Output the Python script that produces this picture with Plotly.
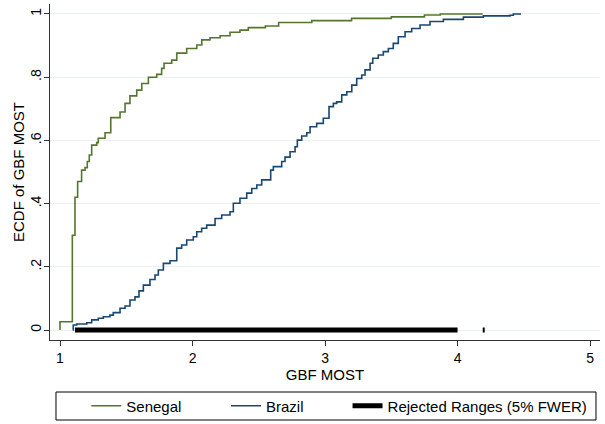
import plotly.graph_objects as go

senegal_x = [1.0, 1.0, 1.093, 1.113, 1.133, 1.163, 1.189, 1.206, 1.221, 1.239, 1.277, 1.289, 1.34, 1.383,
             1.453, 1.491, 1.528, 1.579, 1.617, 1.667, 1.73, 1.767, 1.785, 1.843, 1.881, 1.956, 2.032,
             2.07, 2.132, 2.208, 2.283, 2.358, 2.421, 2.55, 2.65, 2.9, 3.2, 3.5, 3.75, 3.87, 4.19]
senegal_y = [0.0, 0.026, 0.30, 0.42, 0.47, 0.506, 0.514, 0.533, 0.554, 0.585, 0.593, 0.607, 0.624, 0.672,
             0.69, 0.717, 0.741, 0.759, 0.78, 0.80, 0.809, 0.828, 0.844, 0.854, 0.876, 0.891, 0.902,
             0.918, 0.925, 0.931, 0.942, 0.949, 0.957, 0.962, 0.973, 0.979, 0.986, 0.991, 0.997, 1.0, 1.0]

brazil_x = [1.096, 1.10, 1.126, 1.202, 1.239, 1.289, 1.327, 1.377, 1.402, 1.453, 1.491, 1.528, 1.566,
            1.596, 1.629, 1.679, 1.717, 1.742, 1.780, 1.830, 1.881, 1.918, 1.956, 2.006, 2.032, 2.069,
            2.107, 2.17, 2.22, 2.283, 2.308, 2.358, 2.409, 2.447, 2.485, 2.522, 2.59, 2.61, 2.673, 2.698,
            2.736, 2.774, 2.791, 2.824, 2.862, 2.887, 2.937, 2.987, 3.03, 3.063, 3.088, 3.126, 3.164,
            3.202, 3.239, 3.277, 3.302, 3.34, 3.36, 3.402, 3.44, 3.478, 3.515, 3.553, 3.604, 3.654,
            3.717, 3.792, 3.893, 4.044, 4.195, 4.396, 4.421, 4.479]
brazil_y = [0.0, 0.016, 0.019, 0.023, 0.032, 0.037, 0.042, 0.047, 0.055, 0.069, 0.076, 0.095, 0.105,
            0.124, 0.142, 0.16, 0.174, 0.19, 0.211, 0.219, 0.259, 0.269, 0.285, 0.295, 0.311, 0.322,
            0.332, 0.353, 0.364, 0.374, 0.401, 0.417, 0.433, 0.448, 0.459, 0.475, 0.506, 0.517, 0.533,
            0.547, 0.564, 0.58, 0.601, 0.614, 0.624, 0.643, 0.654, 0.67, 0.707, 0.717, 0.722, 0.744,
            0.754, 0.775, 0.796, 0.807, 0.823, 0.844, 0.86, 0.87, 0.881, 0.891, 0.907, 0.928, 0.944,
            0.954, 0.965, 0.976, 0.983, 0.99, 0.994, 0.996, 1.0, 1.0]

rejected_x = [1.113, 4.0, None, 4.19, 4.205]
rejected_y = [0.0, 0.0, None, 0.0, 0.0]

x_ticks = [1, 2, 3, 4, 5]
x_tick_labels = ["1", "2", "3", "4", "5"]
y_ticks = [0, 0.2, 0.4, 0.6, 0.8, 1.0]
y_tick_labels = ["0", ".2", ".4", ".6", ".8", "1"]

FONT = "Liberation Sans, Arial, sans-serif"

fig = go.Figure()
fig.add_trace(go.Scatter(x=senegal_x, y=senegal_y, mode="lines", line_shape="hv",
                         line=dict(color="#55752f", width=1.6), name="Senegal", legend="legend"))
fig.add_trace(go.Scatter(x=brazil_x, y=brazil_y, mode="lines", line_shape="hv",
                         line=dict(color="#1a476f", width=1.6), name="Brazil", legend="legend2"))
fig.add_trace(go.Scatter(x=rejected_x, y=rejected_y, mode="lines",
                         line=dict(color="black", width=5), name="Rejected Ranges (5% FWER)",
                         legend="legend3"))

leg_common = dict(orientation="h", yanchor="middle", y=-0.1964, xanchor="left",
                  bgcolor="rgba(0,0,0,0)", borderwidth=0, font=dict(size=15, family=FONT))

fig.update_layout(
    width=605, height=424,
    margin=dict(l=50, r=5, t=4, b=84, autoexpand=False),
    paper_bgcolor="white", plot_bgcolor="white",
    font=dict(family=FONT, size=14, color="black"),
    legend=dict(x=0.066, **leg_common),
    legend2=dict(x=0.3200, **leg_common),
    legend3=dict(x=0.541, **leg_common),
    showlegend=True,
    shapes=[dict(type="rect", xref="paper", yref="paper", x0=0.0109, x1=0.9927,
                 y0=-0.1548, y1=-0.2381, line=dict(color="black", width=1), layer="above")],
)
fig.update_xaxes(range=[0.9245, 5.075], tickvals=x_ticks, ticktext=x_tick_labels,
                 showline=True, linecolor="#333333", linewidth=1.2, ticks="outside", ticklen=5,
                 tickcolor="#333333", showgrid=False, zeroline=False, automargin=False,
                 title=dict(text="GBF MOST", font=dict(size=15), standoff=2),
                 tickfont=dict(size=14))
fig.update_yaxes(range=[-0.0316, 1.0316], tickvals=y_ticks, ticktext=y_tick_labels,
                 showline=True, linecolor="#333333", linewidth=1.2, ticks="outside", ticklen=5,
                 tickcolor="#333333", showgrid=True, gridcolor="#e8f0f2", gridwidth=1.2,
                 zeroline=False, tickangle=-90, automargin=False, ticklabelstandoff=-3,
                 title=dict(text="ECDF of GBF MOST", font=dict(size=15), standoff=0),
                 tickfont=dict(size=14))

fig.write_html("out.html")
